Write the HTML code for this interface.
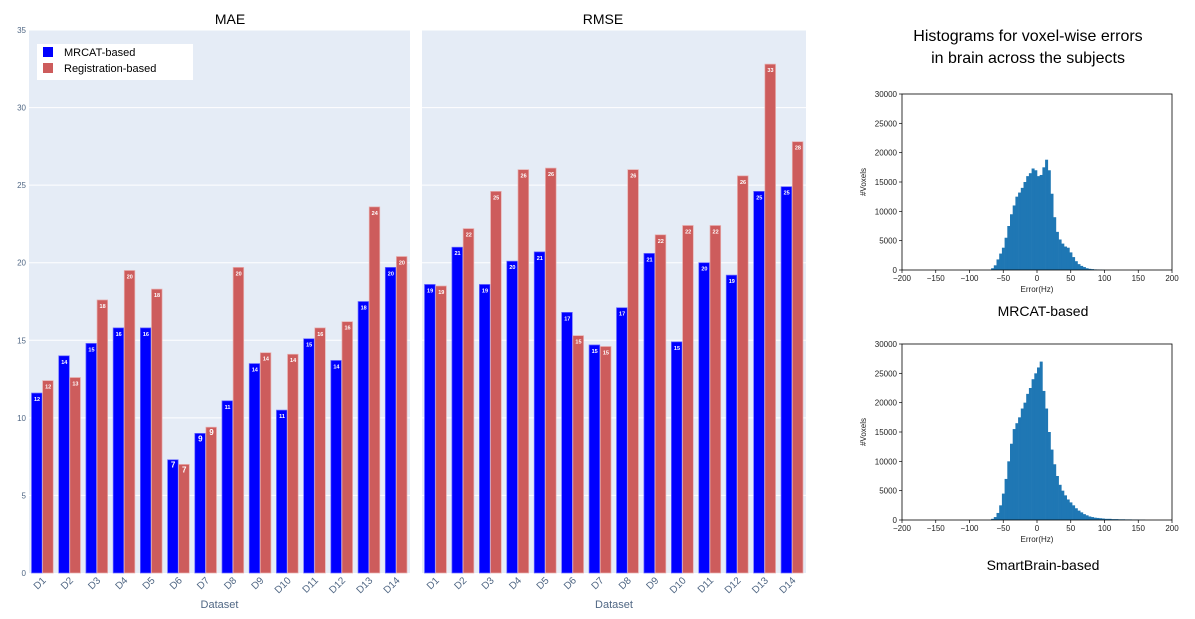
<!DOCTYPE html>
<html><head><meta charset="utf-8"><style>
body{margin:0;background:#fff;width:1195px;height:619px;overflow:hidden;font-family:"Liberation Sans",sans-serif}
svg{position:absolute;left:0;top:0}
</style></head><body>
<svg id="s" width="1195" height="619"></svg>
<script>
const categories=["D1","D2","D3","D4","D5","D6","D7","D8","D9","D10","D11","D12","D13","D14"];
const maeMRCAT=[11.6,14.0,14.8,15.8,15.8,7.3,9.0,11.1,13.5,10.5,15.1,13.7,17.5,19.7];
const maeReg=[12.4,12.6,17.6,19.5,18.3,7.0,9.4,19.7,14.2,14.1,15.8,16.2,23.6,20.4];
const rmseMRCAT=[18.6,21.0,18.6,20.1,20.7,16.8,14.7,17.1,20.6,14.9,20.0,19.2,24.6,24.9];
const rmseReg=[18.5,22.2,24.6,26.0,26.1,15.3,14.6,26.0,21.8,22.4,22.4,25.6,32.8,27.8];
const yTicks=[0,5,10,15,20,25,30,35];
const histBins=[-68,-64,-60,-56,-52,-48,-44,-40,-36,-32,-28,-24,-20,-16,-12,-8,-4,0,4,8,12,16,20,24,28,32,36,40,44,48,52,56,60,64,68,72,76,80,84,88,92,96,100,110,120,130,140,150,160];
const histMRCAT=[300,800,1800,2800,3800,5500,7500,9500,11000,12500,13200,14000,15000,16000,16500,17300,17000,16000,16200,17500,18800,17000,13000,9000,6500,5200,4500,4000,3800,3000,2200,1500,1000,700,500,300,200,150,100,80,50,30,0,0,0,0,0,0,0];
const histSmart=[200,500,1200,2500,4500,7000,10000,13000,15500,16500,17500,19000,20000,21500,22500,24000,25000,26000,27000,22000,19000,15000,12000,9500,7500,6000,5000,4200,3500,3000,2500,2000,1600,1300,1000,800,600,500,400,350,300,250,200,150,120,100,80,50,20];
const histXTicks=[-200,-150,-100,-50,0,50,100,150,200];
const histYTicks=[0,5000,10000,15000,20000,25000,30000];

const NS="http://www.w3.org/2000/svg";
const svg=document.getElementById('s');
function el(t,a,txt){const e=document.createElementNS(NS,t);for(const k in a)e.setAttribute(k,a[k]);if(txt!==undefined)e.textContent=txt;svg.appendChild(e);return e;}

const y0=573,yTop=30;
const yScale=v=>y0-(v/35)*(y0-yTop);
function barChart(x0,x1,m,r,title,tx,prefix){
  const bg=el('rect',{x:x0,y:yTop,width:x1-x0,height:y0-yTop,fill:'#e5ecf6'});
  
  
  yTicks.forEach(t=>{if(t>0){const g=el('line',{x1:x0,x2:x1,y1:yScale(t),y2:yScale(t),stroke:'#fff','stroke-width':1});
    
    }});
  const gw=(x1-x0)/categories.length, bw=(gw-5)/2;
  categories.forEach((c,i)=>{
    const gx=x0+i*gw+2.5;
    [[m[i],'#0000ff','#6b6bff','mrcat'],[r[i],'#cd5c5c','#e8b0b0','registration']].forEach((d,j)=>{
      const bx=gx+j*bw, by=yScale(d[0]);
      const b=el('rect',{x:bx,y:by,width:bw-0.5,height:y0-by,fill:d[1],stroke:d[2],'stroke-width':0.7});
      
      
      const lbl=el('text',{x:bx+bw/2,y:by+8,'font-size':(d[0]<10?8:5.5),'font-weight':'bold',fill:'#fff','text-anchor':'middle'},Math.round(d[0]));
      
      
    });
    const tl=el('text',{x:0,y:0,'font-size':10,fill:'#506784','text-anchor':'end',transform:`translate(${gx+bw+4},${y0+8}) rotate(-45)`},c);
    
    
  });
  const ti=el('text',{x:tx,y:24,'font-size':14,fill:'#000','text-anchor':'middle'},title);
  
  
  const xt=el('text',{x:(x0+x1)/2,y:608,'font-size':11,fill:'#506784','text-anchor':'middle'},'Dataset');
  
  
}
barChart(29,410,maeMRCAT,maeReg,'MAE',230,'mae');
barChart(422,806,rmseMRCAT,rmseReg,'RMSE',603,'rmse');
yTicks.forEach(t=>{const l=el('text',{x:26,y:yScale(t)+3,'font-size':8,fill:'#506784','text-anchor':'end'},t);
  
  });
// legend
const lg=el('rect',{x:37,y:44,width:156,height:36,fill:'#fff'});


[['MRCAT-based','#0000ff',54],['Registration-based','#cd5c5c',70]].forEach(d=>{
  const sw=el('rect',{x:43,y:d[2]-7,width:10,height:10,fill:d[1]});
  
  
  const t=el('text',{x:64,y:d[2]+2,'font-size':11,fill:'#000'},d[0]);
  
  
});
// histograms
function hist(top,bottom,vals,caption,capY,prefix){
  const X0=902,X1=1172;
  const xs=v=>X0+(v+200)/400*(X1-X0), ys=v=>bottom-v/30000*(bottom-top);
  for(let i=0;i<histBins.length-1;i++){
    const a=xs(histBins[i]),b=xs(histBins[i+1]);
    const r=el('rect',{x:a,y:ys(vals[i]),width:b-a+0.3,height:bottom-ys(vals[i]),fill:'#1f77b4'});
    
    
  }
  const fr=el('rect',{x:X0,y:top,width:X1-X0,height:bottom-top,fill:'none',stroke:'#000','stroke-width':0.8});
  
  
  histXTicks.forEach(t=>{el('line',{x1:xs(t),x2:xs(t),y1:bottom,y2:bottom+3,stroke:'#000','stroke-width':0.7});
    const l=el('text',{x:xs(t),y:bottom+11,'font-size':8,fill:'#222','text-anchor':'middle'},t<0?'\u2212'+(-t):t);
    
    });
  histYTicks.forEach(t=>{el('line',{x1:X0-3,x2:X0,y1:ys(t),y2:ys(t),stroke:'#000','stroke-width':0.7});
    const l=el('text',{x:X0-5,y:ys(t)+3,'font-size':8,fill:'#222','text-anchor':'end'},t);
    
    });
  const xl=el('text',{x:1037,y:bottom+22,'font-size':8,fill:'#222','text-anchor':'middle'},'Error(Hz)');
  
  
  const yl=el('text',{x:0,y:0,'font-size':8,fill:'#222','text-anchor':'middle',transform:`translate(866,${(top+bottom)/2}) rotate(-90)`},'#Voxels');
  
  
  const c=el('text',{x:1043,y:capY,'font-size':14,fill:'#000','text-anchor':'middle'},caption);
  
  
}
hist(94,270,histMRCAT,'MRCAT-based',316,'mrcat');
hist(344,520,histSmart,'SmartBrain-based',570,'smartbrain');
[['Histograms for voxel-wise errors',41],['in brain across the subjects',63]].forEach(d=>{
  const t=el('text',{x:1028,y:d[1],'font-size':16,fill:'#000','text-anchor':'middle'},d[0]);
  
  
});
</script>
</body></html>
